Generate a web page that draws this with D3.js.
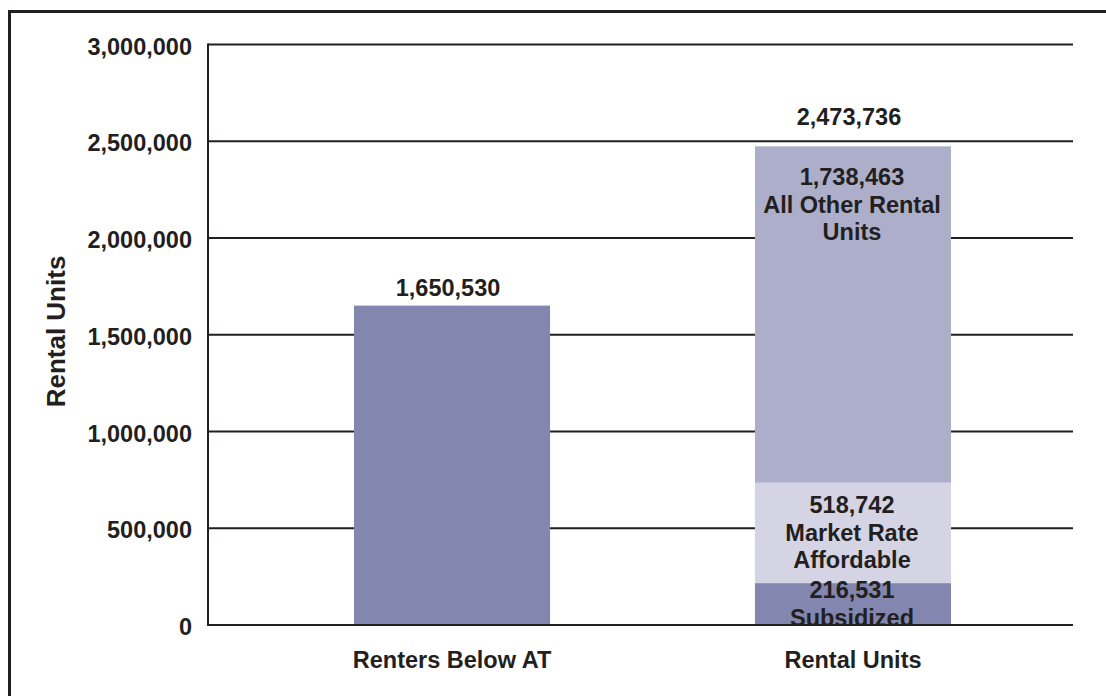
<!DOCTYPE html>
<html>
<head>
<meta charset="utf-8">
<script src="https://cdnjs.cloudflare.com/ajax/libs/d3/7.8.5/d3.min.js"></script>
<style>
    body { margin: 0; background: #fff; }
    svg { display: block; }
    text { font-family: "Liberation Sans", Arial, Helvetica, sans-serif; font-weight: bold; fill: #231f20; }
</style>
</head>
<body>
<svg id="chart" width="1106" height="696"></svg>
<script>
/* global d3 */

// Data
// --------------------
var categories = ["Renters Below AT", "Rental Units"];
var renters = [1650530];
var segmentNames = ["Subsidized", "Market Rate Affordable", "All Other Rental Units"];
var segmentValues = [216531, 518742, 1738463];
var segmentLines = [["Subsidized"], ["Market Rate", "Affordable"], ["All Other Rental", "Units"]];
var totals = [1650530, 2473736];
var yTicks = [0, 500000, 1000000, 1500000, 2000000, 2500000, 3000000];

var colors = {
    dark: "#8386ae",
    mid: "#acaeca",
    light: "#d4d4e4",
    ink: "#231f20"
};
var segmentColors = [colors.dark, colors.light, colors.mid];

var svg = d3.select("#chart");
var fs = 23.5;

// Scales
// --------------------
var y = d3.scaleLinear()
    .domain([0, 3000000])
    .range([625, 44.5]);

var x = d3.scaleBand()
    .domain(categories)
    .range([251.5, 1053.5])
    .paddingInner(0.511)
    .paddingOuter(0.2556);

var fmt = d3.format(",");
var plotLeft = 208, plotRight = 1073;

// Outer frame (only top and left edges fall inside the picture)
svg.append("rect")
    .attr("x", 9.5)
    .attr("y", 11.5)
    .attr("width", 1300)
    .attr("height", 900)
    .style("fill", "none")
    .style("stroke", colors.ink)
    .style("stroke-width", 3);

// Gridlines behind bars
// --------------------
svg.append("g")
    .attr("id", "grid")
    .selectAll("line")
    .data(yTicks.filter(d => d > 0))
    .enter().append("line")
    .attr("x1", plotLeft)
    .attr("x2", plotRight)
    .attr("y1", d => y(d))
    .attr("y2", d => y(d))
    .style("stroke", colors.ink)
    .style("stroke-width", 2);

// Y axis line
svg.append("line")
    .attr("x1", plotLeft)
    .attr("x2", plotLeft)
    .attr("y1", y(3000000) - 1)
    .attr("y2", y(0) + 1)
    .style("stroke", colors.ink)
    .style("stroke-width", 2);

// Tick labels
svg.append("g")
    .attr("id", "yLabels")
    .selectAll("text")
    .data(yTicks)
    .enter().append("text")
    .text(d => fmt(d))
    .attr("x", 192)
    .attr("y", d => y(d) + 10)
    .attr("font-size", fs)
    .attr("text-anchor", "end");

// Axis title
svg.append("text")
    .text("Rental Units")
    .attr("transform", "translate(65, 331.5) rotate(-90)")
    .attr("font-size", 26)
    .attr("text-anchor", "middle");

// Bars
// --------------------
var bars = svg.append("g").attr("id", "bars");

bars.selectAll(".renters")
    .data(renters)
    .enter().append("rect")
    .attr("class", "renters")
    .attr("x", x(categories[0]))
    .attr("width", x.bandwidth())
    .attr("y", d => y(d))
    .attr("height", d => y(0) - y(d))
    .style("fill", colors.dark);

// Stacked segments for rental units
var stack = [];
var acc = 0;
segmentValues.forEach(function (v, i) {
    stack.push({ name: segmentNames[i], value: v, y0: acc, y1: acc + v, lines: segmentLines[i], color: segmentColors[i] });
    acc += v;
});

bars.selectAll(".segment")
    .data(stack)
    .enter().append("rect")
    .attr("class", "segment")
    .attr("x", x(categories[1]))
    .attr("width", x.bandwidth())
    .attr("y", d => y(d.y1))
    .attr("height", d => y(d.y0) - y(d.y1))
    .style("fill", d => d.color);

// Zero line on top of bars
svg.append("line")
    .attr("x1", plotLeft - 1)
    .attr("x2", plotRight)
    .attr("y1", y(0))
    .attr("y2", y(0))
    .style("stroke", colors.ink)
    .style("stroke-width", 2);

// Category labels
svg.append("g")
    .attr("id", "xLabels")
    .selectAll("text")
    .data(categories)
    .enter().append("text")
    .text(d => d)
    .attr("x", d => x(d) + x.bandwidth() / 2)
    .attr("y", 668)
    .attr("font-size", fs)
    .attr("text-anchor", "middle");

// Total labels above bars
var totalGap = [10, 21];
svg.append("g")
    .attr("id", "totals")
    .selectAll("text")
    .data(totals)
    .enter().append("text")
    .text(d => fmt(d))
    .attr("x", (d, i) => x(categories[i]) + x.bandwidth() / 2 - 4)
    .attr("y", (d, i) => y(d) - totalGap[i])
    .attr("font-size", fs)
    .attr("text-anchor", "middle");

// Segment labels: value then name lines
var lineH = 27.5;
var seg = svg.append("g")
    .attr("id", "segLabels")
    .selectAll("text")
    .data(stack)
    .enter().append("text")
    .attr("x", x(categories[1]) + x.bandwidth() / 2 - 1)
    .attr("y", function (d, i) {
        var n = d.lines.length + 1;
        if (i === stack.length - 1) return y(d.y1) + 39;
        var mid = (y(d.y0) + y(d.y1)) / 2;
        return mid - (n - 1) * lineH / 2 + 8;
    })
    .attr("font-size", fs)
    .attr("text-anchor", "middle");

seg.each(function (d) {
    var t = d3.select(this);
    var x0 = t.attr("x");
    [fmt(d.value)].concat(d.lines).forEach(function (s, k) {
        t.append("tspan")
            .attr("x", x0)
            .attr("dy", k === 0 ? 0 : lineH)
            .text(s);
    });
});
</script>
</body>
</html>
